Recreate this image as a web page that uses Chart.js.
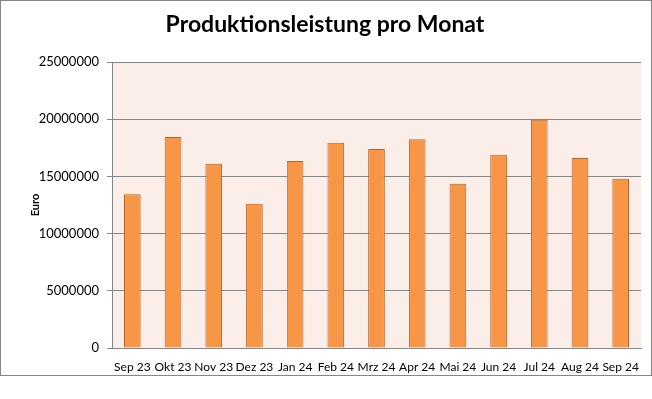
<!DOCTYPE html>
<html><head><meta charset="utf-8">
<script src="https://cdn.jsdelivr.net/npm/chart.js@4"></script>
<style>
html,body{margin:0;padding:0;background:#fff;}
#box{position:absolute;left:0;top:0;width:650px;height:374px;border:1px solid #868686;}
canvas{display:block;}
</style></head>
<body>
<div id="box"><canvas id="c" width="650" height="374"></canvas></div>
<script>
const categories = ["Sep 23","Okt 23","Nov 23","Dez 23","Jan 24","Feb 24","Mrz 24","Apr 24","Mai 24","Jun 24","Jul 24","Aug 24","Sep 24"];
const values = [13450000,18450000,16100000,12600000,16350000,17950000,17400000,18250000,14350000,16900000,19950000,16600000,14800000];
const yTicks = [0,5000000,10000000,15000000,20000000,25000000];
const titleText = "Produktionsleistung pro Monat";
const yTitle = "Euro";

const plotBg = {
  id:'plotBg',
  beforeDraw(chart){
    const {ctx, chartArea:a} = chart;
    ctx.save(); ctx.fillStyle='#FBEEE9';
    ctx.fillRect(a.left,a.top,a.right-a.left,a.bottom-a.top);
    ctx.restore();
  }
};

new Chart(document.getElementById('c'), {
  type:'bar',
  data:{labels:categories, datasets:[{data:values, backgroundColor:'#F79646', borderColor:'#B5652B', borderWidth:1, barPercentage:0.41, categoryPercentage:1}]},
  plugins:[plotBg],
  options:{
    responsive:false, animation:false,
    layout:{padding:{left:0,right:2,top:0,bottom:0}},
    plugins:{
      legend:{display:false}, tooltip:{enabled:false},
      title:{display:true, text:titleText, color:'#000', font:{family:'Lato', size:23, weight:'bold', lineHeight:1.2}, padding:{top:10,bottom:23.4}}
    },
    scales:{
      x:{
        grid:{display:false, drawTicks:false},
        border:{display:true, color:'#868686', width:1},
        ticks:{color:'#000', font:{family:'Lato', size:12}, padding:12, maxRotation:0, autoSkip:false},
        afterFit(s){ s.height = 27; }
      },
      y:{
        min:0, max:25000000,
        afterBuildTicks(s){ s.ticks = yTicks.map(v=>({value:v})); },
        grid:{color:'#868686', lineWidth:1, drawTicks:true, tickLength:5},
        border:{display:true, color:'#868686', width:1},
        ticks:{color:'#000', font:{family:'Lato', size:13}, padding:8, callback:v=>String(v)},
        title:{display:true, text:yTitle, color:'#000', font:{family:'Lato', size:11, weight:'bold'}, padding:{top:28,bottom:0}},
        afterFit(s){ s.width = 111; }
      }
    }
  }
});
</script>
</body></html>
